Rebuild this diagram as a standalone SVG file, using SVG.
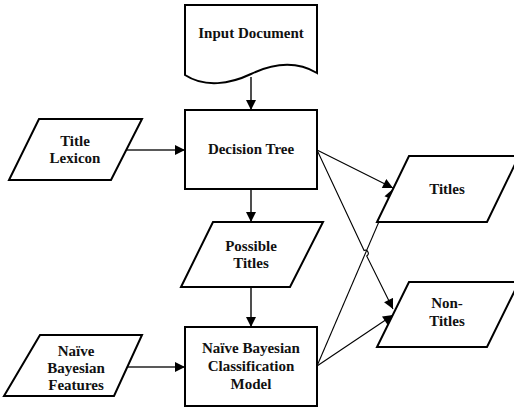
<svg xmlns="http://www.w3.org/2000/svg" width="514" height="408" viewBox="0 0 514 408">
<style>
.n{fill:#fff;stroke:#000;stroke-width:2;stroke-linejoin:miter}
.t{font-family:"Liberation Serif","Times New Roman",serif;font-weight:bold;font-size:15px;fill:#111;text-anchor:middle}
.c{fill:none;stroke:#222;stroke-width:1.6}
.d{fill:none;stroke:#000;stroke-width:1.1}
</style>
<defs>
<marker id="ah" viewBox="0 0 10 10" refX="10" refY="5" markerWidth="11" markerHeight="10" markerUnits="userSpaceOnUse" orient="auto">
<path d="M0,0 L10,5 L0,10 Z" fill="#000"/>
</marker>
</defs>
<rect width="514" height="408" fill="#fff"/>
<g id="connectors">
<path class="c" d="M251,77 V110" marker-end="url(#ah)"/>
<path class="c" d="M127,150 H185" marker-end="url(#ah)"/>
<path class="c" d="M251,189 V222" marker-end="url(#ah)"/>
<path class="c" d="M251,287 V327" marker-end="url(#ah)"/>
<path class="c" d="M125,367 H185" marker-end="url(#ah)"/>
<path class="d" d="M317,150 L393,188" marker-end="url(#ah)"/>
<path class="d" d="M317,150 L364.1,250.5 A3,3 0 0 1 366.7,255.9 L393,309" marker-end="url(#ah)"/>
<path class="d" d="M317,366 L393,189" marker-end="url(#ah)"/>
<path class="d" d="M317,366 L393,315" marker-end="url(#ah)"/>
</g>
<g id="input-document">
<path class="n" d="M185,5 H317 V73 C295,60 272,64 251,74 C230,84 205,88 185,75 Z"/>
<text class="t" x="251" y="38">Input Document</text>
</g>
<g id="decision-tree">
<rect class="n" x="185" y="110" width="132" height="79"/>
<text class="t" x="251" y="154">Decision Tree</text>
</g>
<g id="title-lexicon">
<path class="n" d="M39,119 H142 L111,180 H9 Z"/>
<text class="t" x="75" y="146">Title</text>
<text class="t" x="75" y="163">Lexicon</text>
</g>
<g id="possible-titles">
<path class="n" d="M213,222 H323 L290,287 H181 Z"/>
<text class="t" x="251" y="251">Possible</text>
<text class="t" x="251" y="268">Titles</text>
</g>
<g id="naive-bayesian-model">
<rect class="n" x="185" y="327" width="132" height="79"/>
<text class="t" x="251" y="353">Naïve Bayesian</text>
<text class="t" x="251" y="371">Classification</text>
<text class="t" x="251" y="389">Model</text>
</g>
<g id="naive-bayesian-features">
<path class="n" d="M40,335 H142 L114,396 H4 Z"/>
<text class="t" x="76" y="356">Naïve</text>
<text class="t" x="76" y="373">Bayesian</text>
<text class="t" x="76" y="390">Features</text>
</g>
<g id="titles">
<path class="n" d="M409,156 H519 L487,222 H377 Z"/>
<text class="t" x="447" y="194">Titles</text>
</g>
<g id="non-titles">
<path class="n" d="M409,282 H519 L487,347 H377 Z"/>
<text class="t" x="447" y="308">Non-</text>
<text class="t" x="447" y="326">Titles</text>
</g>
</svg>
